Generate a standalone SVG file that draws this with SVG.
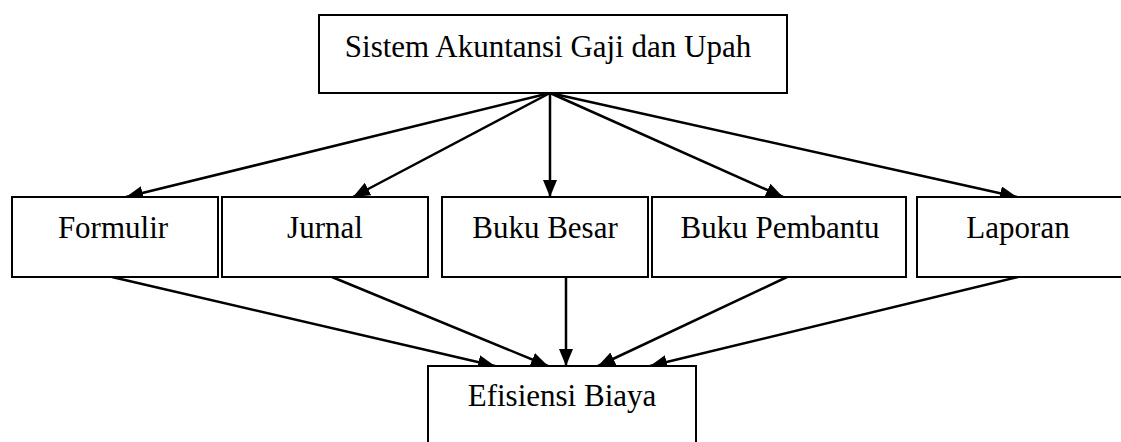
<svg xmlns="http://www.w3.org/2000/svg" width="1121" height="442" viewBox="0 0 1121 442">
<style>
.box{fill:#fff;stroke:#000;stroke-width:2}
.lbl{font-family:"Liberation Serif","Times New Roman",serif;font-size:31px;fill:#000;text-anchor:middle}
.edge{stroke:#000;stroke-width:2.5;fill:none;marker-end:url(#arr)}
</style>
<defs>
<marker id="arr" markerUnits="userSpaceOnUse" markerWidth="19" markerHeight="16" refX="17" refY="7" orient="auto">
<path d="M0,0 L17,7 L0,14 z" fill="#000"/>
</marker>
</defs>
<rect width="1121" height="442" fill="#fff"/>
<g id="connectors">
<line class="edge" x1="550" y1="93" x2="126" y2="197"/>
<line class="edge" x1="550" y1="93" x2="353" y2="197"/>
<line class="edge" x1="550" y1="93" x2="550" y2="197"/>
<line class="edge" x1="550" y1="93" x2="783" y2="197"/>
<line class="edge" x1="550" y1="93" x2="1017" y2="197"/>
<line class="edge" x1="112" y1="277" x2="495" y2="366"/>
<line class="edge" x1="332" y1="277" x2="548" y2="366"/>
<line class="edge" x1="566" y1="277" x2="566" y2="366"/>
<line class="edge" x1="787" y1="277" x2="598" y2="366"/>
<line class="edge" x1="1018" y1="277" x2="650" y2="366"/>
</g>
<g id="node-sistem">
<rect class="box" x="319" y="15" width="468" height="78"/>
<text class="lbl" x="548" y="57">Sistem Akuntansi Gaji dan Upah</text>
</g>
<g id="node-formulir">
<rect class="box" x="12" y="197" width="206" height="80"/>
<text class="lbl" x="113" y="238">Formulir</text>
</g>
<g id="node-jurnal">
<rect class="box" x="222" y="197" width="206" height="80"/>
<text class="lbl" x="325" y="238">Jurnal</text>
</g>
<g id="node-bukubesar">
<rect class="box" x="442" y="197" width="206" height="80"/>
<text class="lbl" x="545" y="238">Buku Besar</text>
</g>
<g id="node-bukupembantu">
<rect class="box" x="652" y="197" width="254" height="80"/>
<text class="lbl" x="780" y="238">Buku Pembantu</text>
</g>
<g id="node-laporan">
<rect class="box" x="917" y="197" width="220" height="80"/>
<text class="lbl" x="1018" y="238">Laporan</text>
</g>
<g id="node-efisiensi">
<rect class="box" x="428" y="366" width="268" height="90"/>
<text class="lbl" x="562" y="406">Efisiensi Biaya</text>
</g>
</svg>
